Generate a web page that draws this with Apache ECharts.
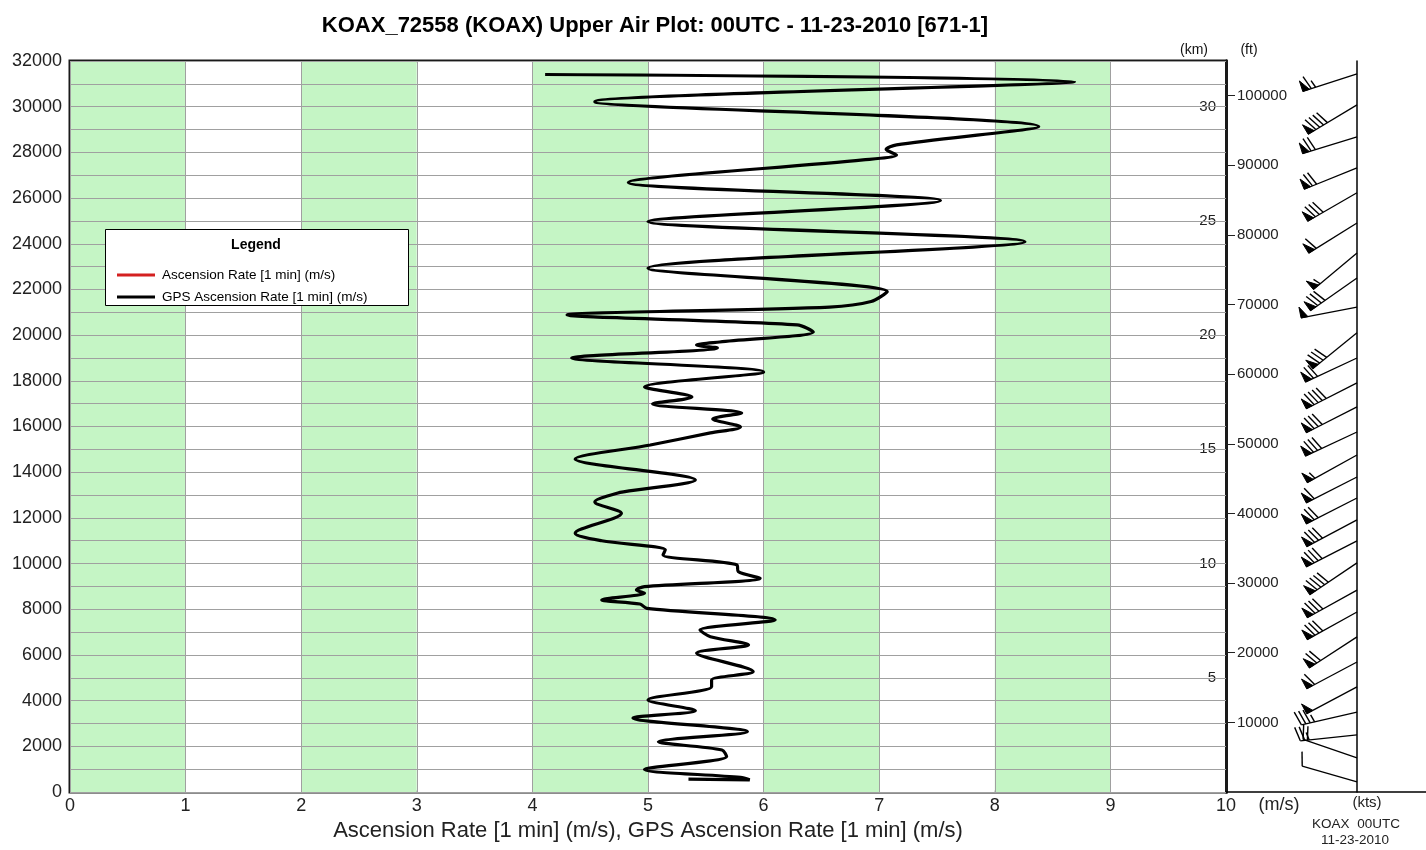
<!DOCTYPE html>
<html>
<head>
<meta charset="utf-8">
<script src="https://cdn.jsdelivr.net/npm/echarts@6/dist/echarts.min.js"></script>
<style>html,body{margin:0;padding:0;background:#fff}#chart{width:1426px;height:850px}</style>
</head>
<body>
<div id="chart"></div>
<script>
// ---------- data ----------
const titleText = 'KOAX_72558 (KOAX) Upper Air Plot: 00UTC - 11-23-2010 [671-1]';
const xAxisTitle = 'Ascension Rate [1 min] (m/s), GPS Ascension Rate [1 min] (m/s)';
const seriesNames = ['Ascension Rate [1 min] (m/s)', 'GPS Ascension Rate [1 min] (m/s)'];

// GPS ascension rate profile: altitude (m) and rate (m/s)
const gpsAltitude = [560, 535, 640, 990, 1550, 1840, 2200, 2640, 3240, 3560, 4030, 4610, 4900, 5270,
  6080, 6440, 6800, 7090, 7530, 8040, 8230, 8410, 8700, 8840, 8990, 9360, 9650, 9940, 10380, 10600,
  11000, 11330, 12200, 12700, 13090, 13150, 13660, 14580, 15190, 15720, 15980, 16330, 16590, 16990,
  17290, 17730, 18390, 19000, 19440, 19570, 19700, 20140, 20450, 20880, 21230, 21470, 21900, 22930,
  24090, 24970, 25890, 26680, 27670, 27890, 28130, 28330, 29130, 30220, 31100, 31410];
const gpsRate = [5.35, 5.88, 5.80, 4.97, 5.68, 5.64, 5.09, 5.86, 4.87, 5.41, 5.00, 5.55, 5.55, 5.91,
  5.42, 5.87, 5.54, 5.45, 6.10, 4.99, 4.93, 4.60, 4.97, 4.90, 4.97, 5.97, 5.78, 5.77, 5.13, 5.15,
  4.60, 4.37, 4.77, 4.54, 4.74, 4.80, 5.41, 4.37, 5.02, 5.54, 5.80, 5.56, 5.81, 5.04,
  5.38, 4.97, 6.00, 4.34, 5.60, 5.42, 5.62, 6.43, 6.29, 4.30, 6.57, 6.93, 7.07, 5.00,
  8.26, 5.00, 7.53, 4.83, 6.86, 7.15, 7.06, 7.15, 8.38, 4.54, 8.69, 4.11];
// Ascension rate (pressure based) – not visible in the plot
const ascAltitude = [];
const ascRate = [];

// wind barbs: altitude (m), direction (deg), speed (kts)
const windAltitude = [31440, 30080, 28680, 27320, 26230, 24910, 23600, 22500, 21230, 20100, 19000, 17910,
  16860, 15760, 14750, 13790, 12870, 11910, 10990, 10030, 8840, 7880, 6790, 5690, 4600, 3500, 2500, 1490, 440];
const windDirection = [252, 239, 253, 248, 240, 238, 230, 235, 259, 231, 245, 243,
  243, 245, 241, 243, 243, 242, 243, 236, 241, 241, 237, 242, 242, 257, 264, 289, 286];
const windSpeed = [65, 90, 70, 70, 80, 60, 55, 80, 50, 80, 70, 90,
  80, 80, 55, 60, 70, 80, 80, 90, 80, 80, 70, 60, 50, 35, 25, 20, 10];

// ---------- chart ----------
const FONT = "'Liberation Sans', Arial, Helvetica, sans-serif";
const chart = echarts.init(document.getElementById('chart'), null, {renderer: 'canvas'});

function barbItem(params, api) {
  const alt = api.value(0), dir = api.value(1), spd = api.value(2);
  const p0 = api.coord([0, alt]);
  const L = 57, rad = dir * Math.PI / 180;
  const ux = Math.sin(rad), uy = -Math.cos(rad);
  const nx = -uy, ny = ux;
  const tip = [p0[0] + L * ux, p0[1] + L * uy];
  const children = [{type: 'line', shape: {x1: p0[0], y1: p0[1], x2: tip[0], y2: tip[1]},
    style: {stroke: '#000', lineWidth: 1.3}}];
  let s = Math.round(spd / 5) * 5;
  let d = 0;
  const pw = 7, ph = 11, bl = 14, gap = 4.5;
  const at = (k) => [tip[0] - ux * k, tip[1] - uy * k];
  while (s >= 50) {
    const a = at(d), b = at(d + pw);
    const c = [a[0] + nx * ph, a[1] + ny * ph];
    children.push({type: 'polygon', shape: {points: [a, c, b]}, style: {fill: '#000', stroke: '#000', lineWidth: 1}});
    d += pw + 2; s -= 50;
  }
  while (s >= 10) {
    const a = at(d);
    children.push({type: 'line', shape: {x1: a[0], y1: a[1], x2: a[0] + nx * bl + ux * bl * 0.3, y2: a[1] + ny * bl + uy * bl * 0.3},
      style: {stroke: '#000', lineWidth: 1.4}});
    d += gap; s -= 10;
  }
  if (s >= 5) {
    if (d === 0) d = gap;
    const a = at(d), h = bl * 0.55;
    children.push({type: 'line', shape: {x1: a[0], y1: a[1], x2: a[0] + nx * h + ux * h * 0.3, y2: a[1] + ny * h + uy * h * 0.3},
      style: {stroke: '#000', lineWidth: 1.4}});
  }
  return {type: 'group', children: children};
}

const option = {
  animation: false,
  backgroundColor: '#fff',
  title: {
    text: titleText, left: 650, top: 10, textAlign: 'center',
    textStyle: {fontFamily: FONT, fontSize: 22, fontWeight: 'bold', color: '#000'}
  },
  legend: {
    data: seriesNames, orient: 'vertical', left: 112, top: 263, itemWidth: 38, itemHeight: 3,
    itemGap: 8, icon: 'rect', z: 100, selectedMode: false,
    textStyle: {fontFamily: FONT, fontSize: 13.5, color: '#000', padding: [0, 0, 0, 2]}
  },
  graphic: [
    {type: 'rect', left: 105, top: 229, z: 50, shape: {width: 303, height: 76},
      style: {fill: '#fff', stroke: '#000', lineWidth: 1}},
    {type: 'text', x: 256, y: 245, z: 51, style: {text: 'Legend', font: 'bold 14px ' + FONT, fill: '#000', textAlign: 'center', textVerticalAlign: 'middle'}},
    {type: 'text', x: 1194, y: 50, style: {text: '(km)', font: '14px ' + FONT, fill: '#111', textAlign: 'center', textVerticalAlign: 'middle'}},
    {type: 'text', x: 1249, y: 50, style: {text: '(ft)', font: '14px ' + FONT, fill: '#111', textAlign: 'center', textVerticalAlign: 'middle'}},
    {type: 'text', x: 1279, y: 805, style: {text: '(m/s)', font: '18px ' + FONT, fill: '#222', textAlign: 'center', textVerticalAlign: 'middle'}},
    {type: 'text', x: 1367, y: 803, style: {text: '(kts)', font: '15px ' + FONT, fill: '#222', textAlign: 'center', textVerticalAlign: 'middle'}},
    {type: 'text', x: 1356, y: 824, style: {text: 'KOAX  00UTC', font: '13.5px ' + FONT, fill: '#222', textAlign: 'center', textVerticalAlign: 'middle'}},
    {type: 'text', x: 1355, y: 840, style: {text: '11-23-2010', font: '13.5px ' + FONT, fill: '#222', textAlign: 'center', textVerticalAlign: 'middle'}}
  ],
  grid: [
    {left: 70, right: 200, top: 61, bottom: 58, show: true, borderColor: '#1a1a1a', borderWidth: 3, backgroundColor: 'transparent'},
    {left: 1226, right: 0, top: 61, bottom: 58}
  ],
  xAxis: [
    {type: 'value', gridIndex: 0, min: 0, max: 10, interval: 1, z: 0,
      name: xAxisTitle, nameLocation: 'middle', nameGap: 28,
      nameTextStyle: {fontFamily: FONT, fontSize: 22, color: '#222'},
      axisLine: {show: false}, axisTick: {show: false},
      axisLabel: {fontFamily: FONT, fontSize: 18, color: '#222', margin: 5},
      splitLine: {show: true, lineStyle: {color: '#a0a0a0', width: 1}},
      splitArea: {show: true, areaStyle: {color: ['#c5f5c5', '#ffffff']}}},
    {type: 'value', gridIndex: 1, min: -131, max: 69,
      axisLine: {show: true, onZero: true, lineStyle: {color: '#000', width: 1.5}},
      axisTick: {show: false}, axisLabel: {show: false}, splitLine: {show: false}}
  ],
  yAxis: [
    {type: 'value', gridIndex: 0, min: 0, max: 32000, interval: 1000, z: 1,
      axisLine: {show: false}, axisTick: {show: false},
      axisLabel: {fontFamily: FONT, fontSize: 18, color: '#222', margin: 8,
        formatter: v => (v % 2000 === 0 ? String(v) : '')},
      splitLine: {show: true, lineStyle: {color: '#a0a0a0', width: 1}}},
    {type: 'value', gridIndex: 0, position: 'right', min: 0, max: 32, interval: 5,
      axisLine: {show: true, lineStyle: {color: '#1a1a1a', width: 3}},
      axisTick: {show: true, inside: true, length: 8, lineStyle: {color: '#222'}},
      axisLabel: {inside: true, margin: 10, fontFamily: FONT, fontSize: 15, color: '#222', showMinLabel: false, showMaxLabel: false,
        formatter: v => String(Math.round(v))},
      splitLine: {show: false}},
    {type: 'value', gridIndex: 0, position: 'right', min: 0, max: 32000 / 0.3048, interval: 10000,
      axisLine: {show: true, lineStyle: {color: '#1a1a1a', width: 3}},
      axisTick: {show: true, inside: false, length: 9, lineStyle: {color: '#222'}},
      axisLabel: {margin: 11, fontFamily: FONT, fontSize: 15, color: '#222', showMinLabel: false, showMaxLabel: false,
        formatter: v => String(Math.round(v))},
      splitLine: {show: false}},
    {type: 'value', gridIndex: 1, min: 0, max: 32000,
      axisLine: {show: true, onZero: true, lineStyle: {color: '#000', width: 1.5}},
      axisTick: {show: false}, axisLabel: {show: false}, splitLine: {show: false}}
  ],
  series: [
    {name: seriesNames[0], type: 'line', xAxisIndex: 0, yAxisIndex: 0,
      data: ascAltitude.map((a, i) => [ascRate[i], a]), symbol: 'none', smooth: 0.3,
      color: '#d42020', lineStyle: {color: '#d42020', width: 3}},
    {name: seriesNames[1], type: 'line', xAxisIndex: 0, yAxisIndex: 0, z: 5,
      data: gpsAltitude.map((a, i) => [gpsRate[i], a]), symbol: 'none', smooth: 0.3,
      color: '#000', lineStyle: {color: '#000', width: 3.2}},
    {name: 'Wind', type: 'custom', xAxisIndex: 1, yAxisIndex: 3, z: 5,
      data: windAltitude.map((a, i) => [a, windDirection[i], windSpeed[i]]),
      encode: {x: -1, y: 0}, renderItem: barbItem, silent: true}
  ]
};
chart.setOption(option);
</script>
</body>
</html>
